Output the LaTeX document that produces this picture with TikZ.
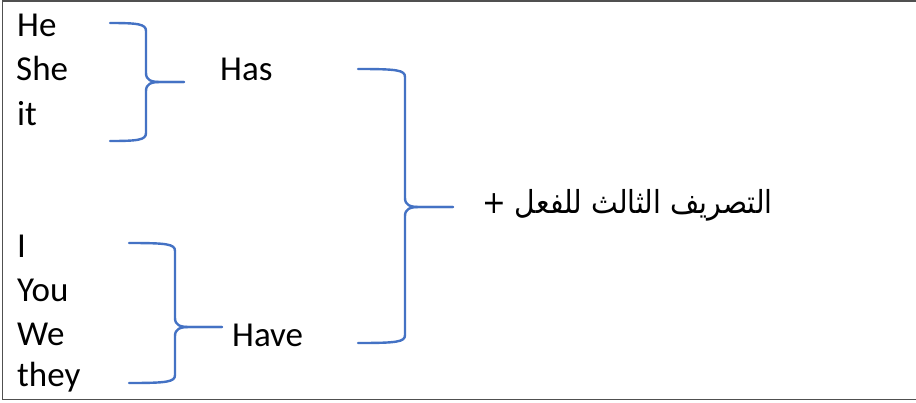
\documentclass[tikz,border=0pt]{standalone}
\usepackage{fontspec}
\setmainfont{Carlito}
\newfontfamily\arabicfont[Script=Arabic]{DejaVu Sans}
\TeXXeTstate=1
\definecolor{braceblue}{HTML}{4472C4}
\definecolor{framegray}{HTML}{505050}
\tikzset{
  word/.style={anchor=base west, inner sep=0pt, font=\fontsize{35}{35}\selectfont},
  bracket/.style={draw=braceblue, line width=2.4pt, line cap=round, line join=round},
}
% brace: #1 left x, #2 vertical x, #3 tip x, #4 top y, #5 mid y, #6 bottom y
\newcommand{\mybrace}[6]{%
  \draw[bracket] (#1,#4) .. controls (#2-8,#4) and (#2,#4+1) .. (#2,#4+8)
    -- (#2,#5-9) .. controls (#2,#5-2) and (#2+5,#5) .. (#2+14,#5) -- (#3,#5);
  \draw[bracket] (#3,#5) -- (#2+14,#5) .. controls (#2+5,#5) and (#2,#5+2) .. (#2,#5+9)
    -- (#2,#6-8) .. controls (#2,#6-1) and (#2-8,#6) .. (#1,#6);
}
\begin{document}
\begin{tikzpicture}[x=1pt,y=-1pt]
\useasboundingbox (0,0) rectangle (916,402);
\fill[white] (0,0) rectangle (916,402);
\draw[framegray, line width=1.5pt] (2.5,1) rectangle (920,399.5);

\node[word] (he)  at (17,36)  {He};
\node[word] (she) at (16,80)  {She};
\node[word] (it)  at (17,125) {it};
\node[word] (i)   at (17,257) {I};
\node[word] (you) at (17,301) {You};
\node[word] (we)  at (17,345) {We};
\node[word] (they) at (17,386) {they};
\node[word] (has)  at (220,80)  {Has};
\node[word] (have) at (232,346) {Have};
\node[anchor=base east, inner sep=0pt, yscale=1.12, font=\fontsize{28.3}{28.3}\selectfont] (verb) at (773,213)
  {\arabicfont\beginR التصريف الثالث للفعل +\endR};

\mybrace{110}{146}{184}{23}{82}{141}
\mybrace{129}{175}{222}{243}{327}{383}
\mybrace{358}{405}{453}{69}{207}{343}
\end{tikzpicture}
\end{document}
